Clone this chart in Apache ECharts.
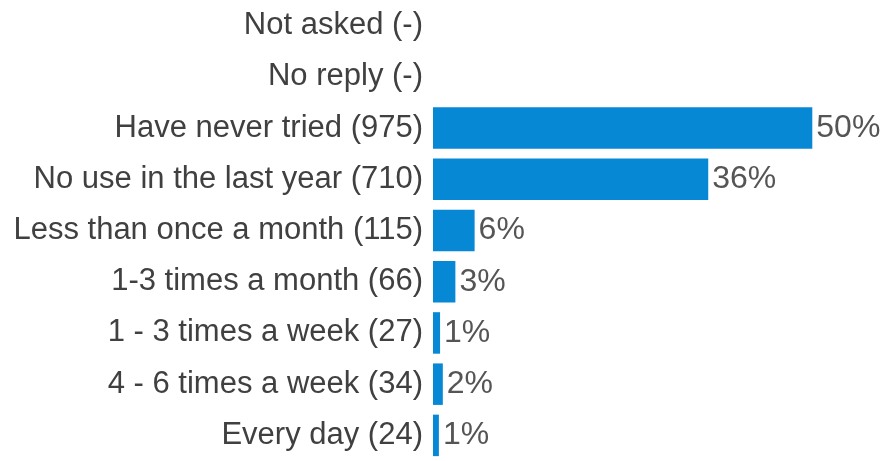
<!DOCTYPE html>
<html>
<head>
<meta charset="utf-8">
<script src="https://cdn.jsdelivr.net/npm/echarts@6/dist/echarts.min.js"></script>
<style>
html,body{margin:0;padding:0;background:#fff;}
#chart{width:883px;height:461px;}
</style>
</head>
<body>
<div id="chart"></div>
<script>
const categories = [
  "Not asked (-)",
  "No reply (-)",
  "Have never tried (975)",
  "No use in the last year (710)",
  "Less than once a month (115)",
  "1-3 times a month (66)",
  "1 - 3 times a week (27)",
  "4 - 6 times a week (34)",
  "Every day (24)"
];
const counts = [null, null, 975, 710, 115, 66, 27, 34, 24];
const total = counts.reduce((s, v) => s + (v || 0), 0);

const chart = echarts.init(document.getElementById('chart'), null, {renderer: 'canvas'});
chart.setOption({
  animation: false,
  backgroundColor: '#ffffff',
  grid: {left: 433, right: 70.7, top: -1.5, bottom: -11, containLabel: false},
  xAxis: {
    type: 'value', min: 9, max: 975, show: false
  },
  yAxis: {
    type: 'category', inverse: true, data: categories,
    axisLine: {show: false}, axisTick: {show: false}, splitLine: {show: false},
    axisLabel: {
      margin: 10, color: '#404040', fontSize: 31,
      fontFamily: '"Liberation Sans", Arial, sans-serif'
    }
  },
  series: [{
    type: 'bar', data: counts, barCategoryGap: '19%',
    itemStyle: {color: '#0788d4'},
    label: {
      show: true, position: 'right', distance: 4,
      color: '#555555', fontSize: 32,
      fontFamily: '"Liberation Sans", Arial, sans-serif',
      formatter: p => Math.round(p.value / total * 100) + '%'
    }
  }]
});
</script>
</body>
</html>
